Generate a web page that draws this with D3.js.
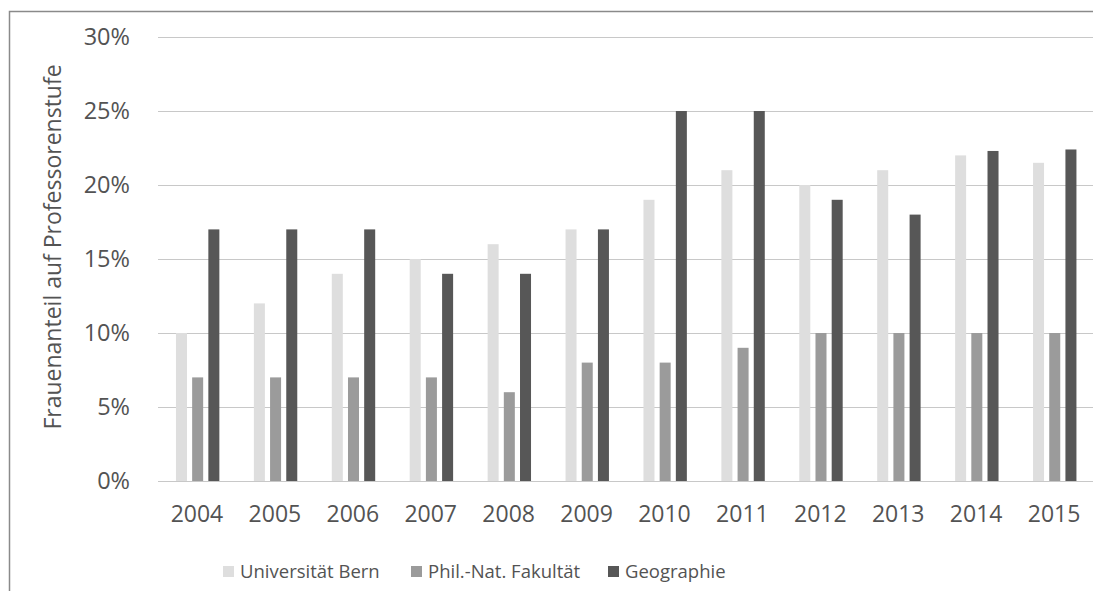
<!DOCTYPE html>
<html>
<head>
<meta charset="utf-8">
<script src="https://cdn.jsdelivr.net/npm/d3@7"></script>
<style>
  body { margin: 0; background: #fff; }
  text { font-family: "Open Sans", sans-serif; fill: #535353; }
</style>
</head>
<body>
<div id="chart"></div>
<script>
var years = ["2004", "2005", "2006", "2007", "2008", "2009", "2010", "2011", "2012", "2013", "2014", "2015"];
var seriesNames = ["Universität Bern", "Phil.-Nat. Fakultät", "Geographie"];
var uniBern = [10, 12, 14, 15, 16, 17, 19, 21, 20, 21, 22, 21.5];
var philNat = [7, 7, 7, 7, 6, 8, 8, 9, 10, 10, 10, 10];
var geographie = [17, 17, 17, 14, 14, 17, 25, 25, 19, 18, 22.3, 22.4];
var yTicks = [0, 5, 10, 15, 20, 25, 30];
var colors = ["#dedede", "#9b9b9b", "#575757"];

var width = 1093, height = 591;
var margin = { top: 37, right: 0, bottom: 110, left: 158 };

var svg = d3.select("#chart").append("svg")
  .attr("width", width)
  .attr("height", height);

// outer frame (only top and left edges visible in the crop)
svg.append("path")
  .attr("d", "M9.5," + height + "V11.5H" + width)
  .attr("fill", "none")
  .attr("stroke", "#8a8a8a")
  .attr("stroke-width", 1.5);

var x = d3.scaleBand()
  .domain(years)
  .range([margin.left, width - margin.right]);

var y = d3.scaleLinear()
  .domain([0, 30])
  .range([height - margin.bottom, margin.top]);

var series = [uniBern, philNat, geographie];
var xSub = d3.scaleBand()
  .domain(d3.range(series.length))
  .range([-21, 22.4])
  .paddingInner(0.32);

// gridlines
svg.append("g")
  .selectAll("line")
  .data(yTicks)
  .enter().append("line")
  .attr("x1", margin.left)
  .attr("x2", width - margin.right)
  .attr("y1", function (d) { return Math.round(y(d)) + 0.5; })
  .attr("y2", function (d) { return Math.round(y(d)) + 0.5; })
  .attr("stroke", "#c8c8c8")
  .attr("stroke-width", 1.2);

// bars
series.forEach(function (vals, s) {
  svg.append("g")
    .selectAll("rect")
    .data(vals)
    .enter().append("rect")
    .attr("x", function (d, i) { return x(years[i]) + x.bandwidth() / 2 + xSub(s); })
    .attr("width", xSub.bandwidth())
    .attr("y", function (d) { return y(d); })
    .attr("height", function (d) { return y(0) - y(d); })
    .attr("fill", colors[s]);
});

// y axis labels
var yAxis = d3.axisLeft(y)
  .tickValues(yTicks)
  .tickSize(0)
  .tickPadding(0)
  .tickFormat(function (d) { return d + "%"; });

var gy = svg.append("g")
  .attr("transform", "translate(130,0)")
  .call(yAxis);
gy.select(".domain").remove();
gy.selectAll("text")
  .attr("font-size", 23.5)
  .attr("font-family", null)
  .attr("fill", null);

// x axis labels
var xAxis = d3.axisBottom(x).tickSize(0).tickPadding(0);
var gx = svg.append("g")
  .attr("transform", "translate(0," + (y(0) + 25) + ")")
  .call(xAxis);
gx.select(".domain").remove();
gx.selectAll("text")
  .attr("font-size", 23)
  .attr("font-family", null)
  .attr("fill", null);

// y axis title
svg.append("text")
  .attr("transform", "translate(61," + 247 + ") rotate(-90)")
  .attr("text-anchor", "middle")
  .attr("font-size", 23)
  .text("Frauenanteil auf Professorenstufe");

// legend
var legendX = [223, 411, 608];
var legend = svg.append("g")
  .selectAll("g")
  .data(seriesNames)
  .enter().append("g")
  .attr("transform", function (d, i) { return "translate(" + legendX[i] + ",566)"; });

legend.append("rect")
  .attr("width", 11)
  .attr("height", 11)
  .attr("fill", function (d, i) { return colors[i]; });

legend.append("text")
  .attr("x", 17)
  .attr("y", 6)
  .attr("dy", "0.35em")
  .attr("font-size", 18.5)
  .text(function (d) { return d; });
</script>
</body>
</html>
